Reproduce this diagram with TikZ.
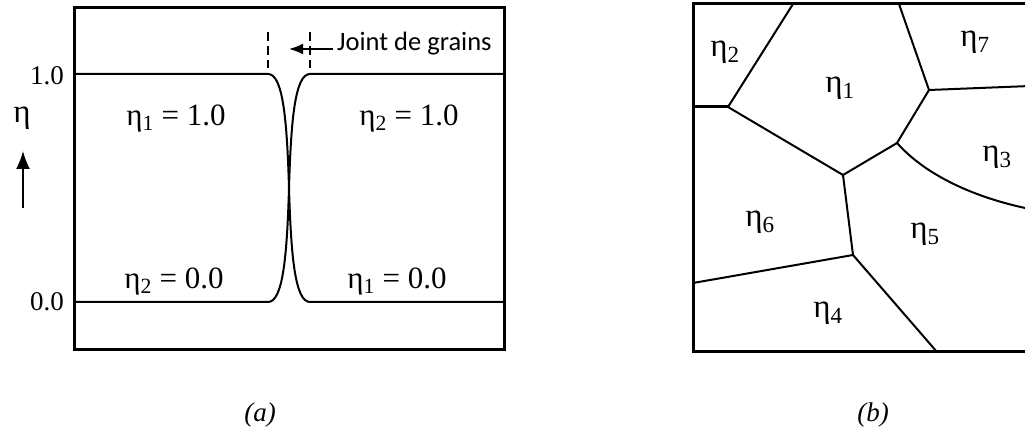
\documentclass[tikz,border=0pt]{standalone}
\usepackage{fontspec}
\setmainfont{Liberation Serif}
\newfontfamily\jointfont{Carlito}
\usepackage{tikz}
\usetikzlibrary{arrows.meta,calc}
\newcommand{\gr}[1]{η\textsubscript{#1}}
\tikzset{
  frame/.style   = {line width=3pt},
  profile/.style = {line width=2pt},
  bound/.style   = {line width=2pt, line cap=round},
  guide/.style   = {line width=1.4pt, dash pattern=on 9pt off 5pt},
  ptr/.style     = {-{Latex[length=14pt,width=11pt]}, line width=1.8pt},
  eqlbl/.style   = {font=\fontsize{31}{34}\selectfont, inner sep=1pt},
  grlbl/.style   = {font=\fontsize{33}{36}\selectfont, inner sep=1pt},
  ticklbl/.style = {font=\fontsize{27}{30}\selectfont, inner sep=1pt},
  caption/.style = {font=\fontsize{27}{30}\selectfont\itshape, inner sep=1pt}
}

\begin{document}
\begin{tikzpicture}[x=1pt,y=-1pt]
  \useasboundingbox (0,0) rectangle (1025,435);

  % (a) order parameter profile across a grain boundary
  \draw[frame] (74,8) rectangle (504,350);
  \draw[profile] (74,74) -- (268,74)
        .. controls (283,74) and (287,120) .. (289,188)
        .. controls (291,256) and (295,302) .. (310,302) -- (504,302);
  \draw[profile] (74,302) -- (268,302)
        .. controls (283,302) and (287,256) .. (289,188)
        .. controls (291,120) and (295,74) .. (310,74) -- (504,74);
  \draw[guide] (268,32) -- (268,68);
  \draw[guide] (310,32) -- (310,68);
  \node[font=\jointfont\fontsize{26.5}{30}\selectfont, anchor=west, inner sep=4pt]
        (gb) at (333,44) {Joint de grains};
  \coordinate (gbtip) at (289,49);
  \draw[ptr] (gb.west |- gbtip) -- (gbtip);

  \node[ticklbl] (one)  at (47,76)  {1.0};
  \node[ticklbl] (zero) at (47,302) {0.0};
  \node[grlbl]   (eta)  at (22,118) {η};
  \coordinate (etafoot) at (23,208);
  \coordinate (etahead) at (23,151);
  \draw[ptr, -{Latex[length=18pt,width=14pt]}] (etafoot) -- (etahead);

  \node[eqlbl] (a11) at (176,118) {\gr{1} = 1.0};
  \node[eqlbl] (a21) at (409,118) {\gr{2} = 1.0};
  \node[eqlbl] (a20) at (174,281) {\gr{2} = 0.0};
  \node[eqlbl] (a10) at (397,281) {\gr{1} = 0.0};

  % (b) polycrystal with grain labels
  \begin{scope}
    \clip (680,0) rectangle (1025,360);
    \draw[frame] (1040,4) -- (693,4) -- (693,352) -- (1040,352);
    \coordinate (pa) at (793,4);
    \coordinate (pb) at (899,4);
    \coordinate (pc) at (728,107);
    \coordinate (pd) at (929,90);
    \coordinate (pe) at (897,143);
    \coordinate (pf) at (843,175);
    \coordinate (pg) at (853,255);
    \draw[frame] (693,107) -- (pc);
    \draw[bound] (pa) -- (pc) -- (pf) -- (pe) -- (pd) -- (pb);
    \draw[bound] (pd) -- (1030,86);
    \draw[bound] (pe) .. controls (930,180) and (985,200) .. (1030,209);
    \draw[bound] (pf) -- (pg) -- (693,283);
    \draw[bound] (pg) -- (937,352);
  \end{scope}
  \node[grlbl] (g2) at (725,52)  {\gr{2}};
  \node[grlbl] (g1) at (840,88)  {\gr{1}};
  \node[grlbl] (g7) at (975,42)  {\gr{7}};
  \node[grlbl] (g3) at (997,157) {\gr{3}};
  \node[grlbl] (g6) at (760,222) {\gr{6}};
  \node[grlbl] (g5) at (925,234) {\gr{5}};
  \node[grlbl] (g4) at (828,313) {\gr{4}};

  \node[caption] (capa) at (260,415) {(a)};
  \node[caption] (capb) at (873,415) {(b)};
\end{tikzpicture}
\end{document}
